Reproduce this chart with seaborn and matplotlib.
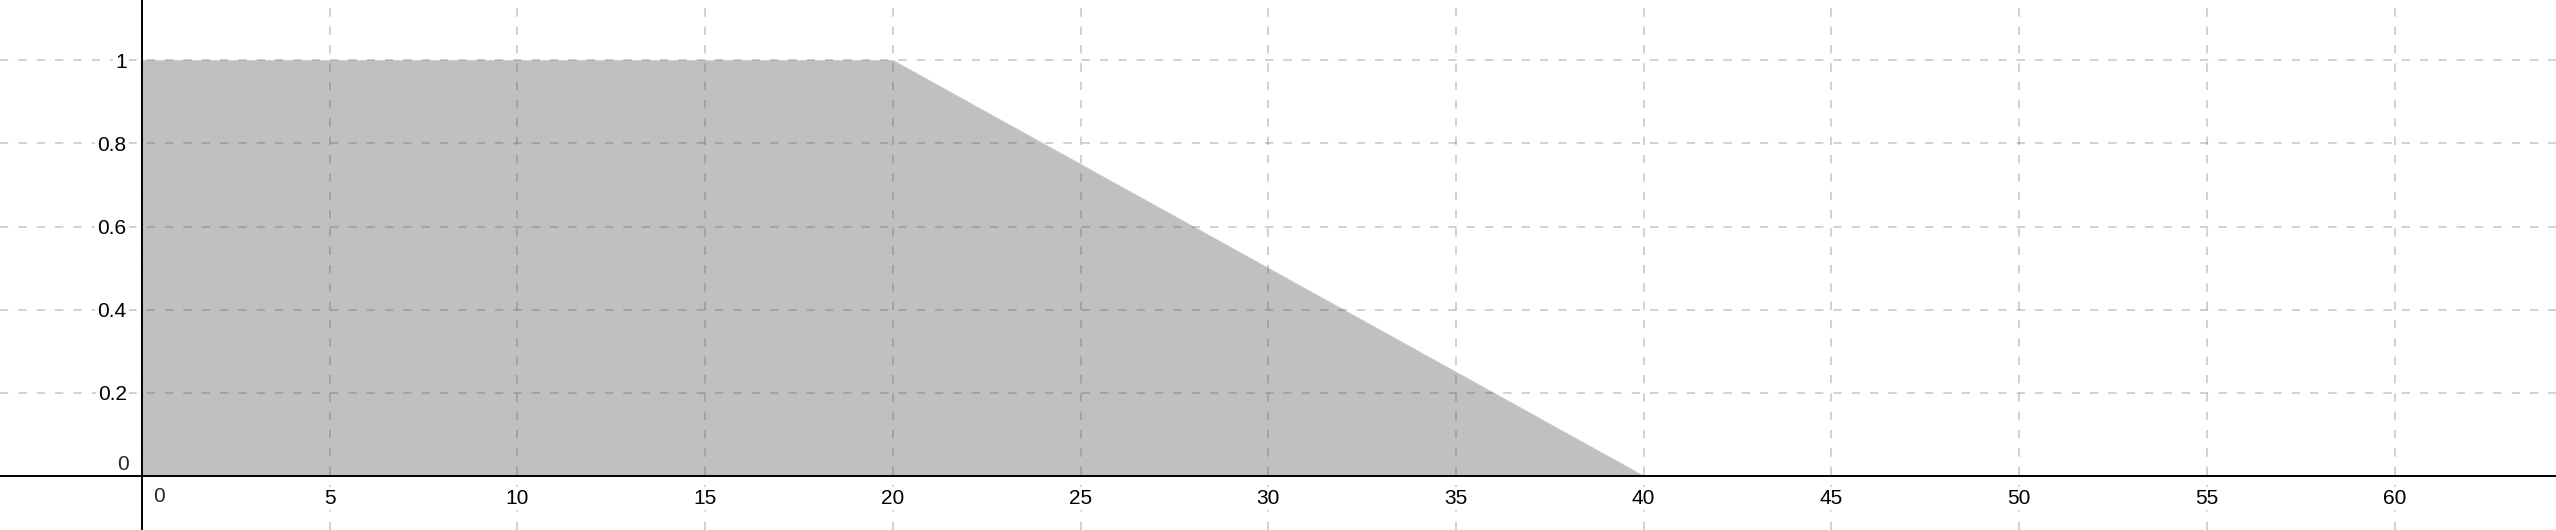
import numpy as np
import matplotlib
matplotlib.use('Agg')
import matplotlib.pyplot as plt
import seaborn as sns

# Data for the shaded region
x_pts = [0, 20, 40]
y_pts = [1, 1, 0]

x_ticks = [0, 5, 10, 15, 20, 25, 30, 35, 40, 45, 50, 55, 60]
y_ticks = [0, 0.2, 0.4, 0.6, 0.8, 1]
y_tick_labels = ['0', '0.2', '0.4', '0.6', '0.8', '1']

sns.set_style('white')
plt.rcParams['font.family'] = ['Liberation Sans', 'DejaVu Sans']

fig = plt.figure(figsize=(25.56, 5.30), dpi=100)
ax = fig.add_axes([0, 0, 1, 1])

# shaded area
ax.fill_between(x_pts, y_pts, 0, color='#c0c0c0', lw=0, zorder=1)
sns.lineplot(x=x_pts, y=y_pts, ax=ax, color='#c0c0c0', lw=0.5, zorder=1)

ax.set_xlim(-3.78, 64.3)
ax.set_ylim(-0.130, 1.145)

# grid
ax.set_xticks(x_ticks)
ax.set_yticks(y_ticks)
ax.set_yticklabels([''] + y_tick_labels[1:])
ax.set_xticklabels([''] + [str(v) for v in x_ticks[1:]])
ax.grid(True, color=(0.3, 0.3, 0.3), alpha=0.3, lw=1.2,
        linestyle=(0, (5, 6)))
ax.set_axisbelow(False)

# axes through the origin
for side in ['top', 'right']:
    ax.spines[side].set_visible(False)
ax.spines['left'].set_position(('data', 0))
ax.spines['bottom'].set_position(('data', 0))
for side in ['left', 'bottom']:
    ax.spines[side].set_linewidth(1.4)
    ax.spines[side].set_color('black')
    ax.spines[side].set_zorder(5)

ax.tick_params(axis='both', direction='out', length=6, width=1.1,
               colors='black', labelsize=15)
ax.tick_params(axis='x', pad=3.5)
ax.tick_params(axis='y', pad=5)

for lbl in ax.get_xticklabels() + ax.get_yticklabels():
    lbl.set_bbox(dict(facecolor='white', edgecolor='none', pad=1.5))

# origin labels sit off the axes
ax.annotate('0', xy=(0, 0), xytext=(8, -15), textcoords='offset points',
            ha='left', va='center', fontsize=15, zorder=6)
ax.annotate('0', xy=(0, 0), xytext=(-9.5, 8.6), textcoords='offset points',
            ha='right', va='center', fontsize=15, zorder=6)

fig.savefig('out.png', dpi=100)
